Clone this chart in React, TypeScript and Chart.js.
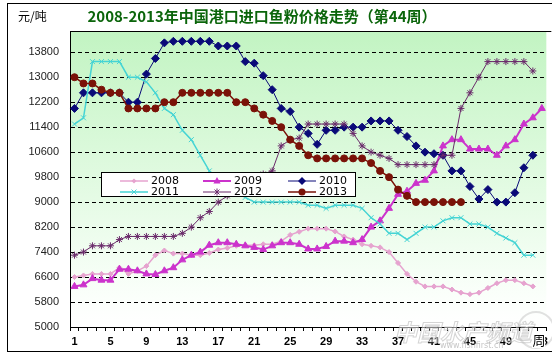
import React, { useEffect, useRef } from 'react';
import { Chart, registerables } from 'chart.js';

Chart.register(...registerables);

const weeks = ['1','2','3','4','5','6','7','8','9','10','11','12','13','14','15','16','17','18','19','20','21','22','23','24','25','26','27','28','29','30','31','32','33','34','35','36','37','38','39','40','41','42','43','44','45','46','47','48','49','50','51','52','53'];

const yTicks = [5000, 5800, 6600, 7400, 8200, 9000, 9800, 10600, 11400, 12200, 13000, 13800];

const s2008 = [6600,6650,6700,6700,6700,6900,6700,6800,6950,7300,7450,7350,7350,7300,7300,7370,7480,7530,7600,7620,7620,7650,7650,7750,7950,8050,8150,8150,8150,8060,7900,7800,7650,7600,7550,7400,7050,6700,6450,6300,6300,6300,6200,6100,6050,6100,6250,6400,6500,6500,6400,6300];
const s2009 = [6300,6350,6550,6500,6500,6850,6850,6800,6700,6680,6800,6900,7150,7300,7400,7620,7700,7700,7650,7600,7550,7480,7600,7700,7700,7650,7500,7500,7580,7750,7750,7700,7800,8200,8400,8800,9250,9350,9600,9700,10000,10800,11000,11000,10700,10700,10700,10500,10800,11000,11500,11700,12000];
const s2010 = [12000,12500,12500,12500,12500,12500,12200,12200,13100,13600,14100,14150,14150,14150,14150,14150,14000,14000,14000,13500,13450,13050,12600,12000,11900,11400,11200,10850,11300,11300,11400,11400,11400,11600,11600,11600,11300,11100,10800,10600,10550,10500,10000,10000,9500,9100,9400,9000,9000,9300,10100,10500];
const s2011 = [11500,11700,13500,13500,13500,13500,13000,13000,12850,12500,12000,11800,11300,11000,10500,10000,9750,9500,9300,9150,9000,9000,9000,9000,9000,9000,8900,8900,8800,8900,8900,8900,8800,8500,8300,8000,8000,7800,8000,8200,8200,8400,8500,8500,8300,8300,8200,8000,7850,7700,7300,7300];
const s2012 = [7300,7400,7600,7600,7600,7800,7900,7900,7900,7900,7900,7900,8000,8200,8500,8700,9000,9200,9300,9500,9700,9900,10000,10800,11000,11050,11500,11500,11500,11500,11500,11200,10800,10600,10500,10400,10200,10200,10200,10200,10200,10500,10500,12000,12500,13000,13500,13500,13500,13500,13500,13200];
const s2013 = [13000,12800,12800,12600,12500,12500,12000,12000,12000,12000,12200,12200,12500,12500,12500,12500,12500,12500,12200,12200,12000,11800,11600,11400,11000,10800,10500,10400,10400,10400,10400,10400,10400,10250,10000,9800,9400,9200,9000,9000,9000,9000,9000,9000];

const seriesNames = ['2008', '2009', '2010', '2011', '2012', '2013'];
const seriesColors = ['#e6a3cf', '#cc33cc', '#0a0a78', '#45d4d4', '#6a2a6a', '#7a1208'];
const seriesStyles = ['rectRot', 'triangle', 'rectRot', 'crossRot', 'star', 'circle'];
const seriesRadius = [2.5, 4, 4, 3.5, 3.5, 3.5];
const seriesWidth = [1.5, 2, 1, 1.5, 1, 1.5];
const seriesData = [s2008, s2009, s2010, s2011, s2012, s2013];

function drawMarker(ctx: CanvasRenderingContext2D, style: string, x: number, y: number, r: number, color: string) {
  ctx.save();
  ctx.fillStyle = color;
  ctx.strokeStyle = color;
  ctx.lineWidth = 1;
  ctx.beginPath();
  if (style === 'rectRot') {
    ctx.moveTo(x, y - r); ctx.lineTo(x + r, y); ctx.lineTo(x, y + r); ctx.lineTo(x - r, y); ctx.closePath();
    ctx.fill();
  } else if (style === 'triangle') {
    ctx.moveTo(x, y - r); ctx.lineTo(x + r * 0.9, y + r * 0.6); ctx.lineTo(x - r * 0.9, y + r * 0.6); ctx.closePath();
    ctx.fill();
  } else if (style === 'crossRot') {
    ctx.moveTo(x - r * 0.7, y - r * 0.7); ctx.lineTo(x + r * 0.7, y + r * 0.7);
    ctx.moveTo(x + r * 0.7, y - r * 0.7); ctx.lineTo(x - r * 0.7, y + r * 0.7);
    ctx.stroke();
  } else if (style === 'star') {
    ctx.moveTo(x - r * 0.7, y - r * 0.7); ctx.lineTo(x + r * 0.7, y + r * 0.7);
    ctx.moveTo(x + r * 0.7, y - r * 0.7); ctx.lineTo(x - r * 0.7, y + r * 0.7);
    ctx.moveTo(x, y - r); ctx.lineTo(x, y + r);
    ctx.stroke();
  } else {
    ctx.arc(x, y, r, 0, Math.PI * 2);
    ctx.fill();
  }
  ctx.restore();
}

const decor = {
  id: 'decor',
  beforeDraw(chart: any) {
    const { ctx, chartArea: a } = chart;
    ctx.save();
    ctx.fillStyle = '#ffffff';
    ctx.fillRect(0, 0, chart.width, chart.height);
    const g = ctx.createLinearGradient(0, a.top, 0, a.bottom);
    g.addColorStop(0, '#c2f4c2');
    g.addColorStop(0.55, '#e4fbe4');
    g.addColorStop(0.9, '#fbfffb');
    g.addColorStop(1, '#ffffff');
    ctx.fillStyle = g;
    ctx.fillRect(a.left, a.top, a.right - a.left, a.bottom - a.top);
    ctx.strokeStyle = '#000';
    ctx.lineWidth = 1;
    ctx.strokeRect(7.5, 3.5, 600, 348);
    ctx.beginPath();
    ctx.moveTo(a.left, a.top + 0.5);
    ctx.lineTo(a.right + 5, a.top + 0.5);
    ctx.stroke();
    ctx.fillStyle = '#0b650b';
    ctx.font = 'bold 15px "Noto Sans CJK SC"';
    ctx.textAlign = 'center';
    ctx.textBaseline = 'middle';
    ctx.fillText('2008-2013年中国港口进口鱼粉价格走势（第44周）', 262, 16.5);
    ctx.fillStyle = '#000';
    ctx.font = '12px "Noto Sans CJK SC"';
    ctx.textAlign = 'left';
    ctx.fillText('元/吨', 18, 16.5);
    ctx.restore();
  },
  afterDatasetsDraw(chart: any) {
    const { ctx } = chart;
    ctx.save();
    const bx = 101.5, by = 172.5, bw = 254, bh = 24;
    ctx.fillStyle = '#ffffff';
    ctx.fillRect(bx, by, bw, bh);
    ctx.beginPath();
    ctx.rect(bx, by, bw, bh);
    ctx.clip();
    const cols = [120, 203, 288];
    const rows = [181, 192];
    ctx.font = '11px "DejaVu Sans"';
    ctx.textBaseline = 'middle';
    ctx.textAlign = 'left';
    for (let i = 0; i < 6; i++) {
      const cx = cols[i % 3];
      const cy = rows[Math.floor(i / 3)];
      ctx.strokeStyle = seriesColors[i];
      ctx.lineWidth = seriesWidth[i];
      ctx.beginPath();
      ctx.moveTo(cx, cy);
      ctx.lineTo(cx + 28, cy);
      ctx.stroke();
      drawMarker(ctx, seriesStyles[i], cx + 14, cy, seriesRadius[i], seriesColors[i]);
      ctx.fillStyle = '#000';
      ctx.fillText(seriesNames[i], cx + 31, cy + 0.5);
    }
    ctx.restore();
    ctx.save();
    ctx.strokeStyle = '#000';
    ctx.lineWidth = 1;
    ctx.strokeRect(bx, by, bw, bh);
    ctx.restore();
  },
  afterDraw(chart: any) {
    const { ctx } = chart;
    ctx.save();
    ctx.font = 'bold italic 23px "Noto Sans CJK SC"';
    ctx.textBaseline = 'middle';
    ctx.textAlign = 'left';
    ctx.fillStyle = 'rgba(255,255,255,0.5)';
    ctx.fillText('中国水产频道', 394, 332);
    ctx.strokeStyle = 'rgba(170,170,170,0.5)';
    ctx.lineWidth = 1;
    ctx.strokeText('中国水产频道', 394, 332);
    ctx.font = '8px "DejaVu Sans"';
    ctx.fillStyle = 'rgba(150,150,150,0.55)';
    ctx.fillText('www.fishfirst.cn', 440, 346);
    ctx.beginPath();
    ctx.arc(536, 330, 18, 0, Math.PI * 2);
    ctx.strokeStyle = 'rgba(180,180,180,0.4)';
    ctx.lineWidth = 2;
    ctx.stroke();
    ctx.fillStyle = '#ffffff';
    ctx.fillRect(532, 332, 13, 16);
    ctx.fillStyle = '#000';
    ctx.font = '13px "Noto Sans CJK SC"';
    ctx.textAlign = 'center';
    ctx.fillText('周', 539, 340);
    ctx.restore();
  },
};

export default function App() {
  const ref = useRef<HTMLCanvasElement | null>(null);
  useEffect(() => {
    if (!ref.current) return;
    const datasets = seriesNames.map((name, i) => ({
      label: name,
      data: seriesData[i],
      borderColor: seriesColors[i],
      backgroundColor: seriesColors[i],
      borderWidth: seriesWidth[i],
      pointStyle: seriesStyles[i] as any,
      pointRadius: seriesRadius[i],
      pointBorderWidth: 1,
      pointBackgroundColor: seriesColors[i],
      pointBorderColor: seriesColors[i],
      tension: 0,
      fill: false,
      order: 6 - i,
    }));
    const chart = new Chart(ref.current, {
      type: 'line',
      data: { labels: weeks, datasets },
      options: {
        animation: false,
        responsive: false,
        devicePixelRatio: 1,
        layout: { padding: { top: 31, right: 1, left: 0, bottom: 0 } },
        plugins: { legend: { display: false }, tooltip: { enabled: false }, title: { display: false } },
        scales: {
          x: {
            type: 'category',
            offset: true,
            grid: { display: true, drawOnChartArea: false, drawTicks: true, tickLength: 4, color: '#000', offset: true },
            border: { display: true, color: '#000', width: 1 },
            ticks: {
              autoSkip: false,
              maxRotation: 0,
              padding: 4,
              color: '#000',
              font: { family: 'Liberation Sans', size: 11, weight: 'bold' },
              callback: (_v: any, i: number) => (i % 4 === 0 ? weeks[i] : ''),
            },
            afterFit: (s: any) => { s.height = 30; },
          },
          y: {
            type: 'linear',
            min: 5000,
            max: 14480,
            afterBuildTicks: (s: any) => { s.ticks = yTicks.map((v) => ({ value: v })); },
            grid: { display: true, drawTicks: false, color: '#000', lineWidth: 1 },
            border: { display: true, color: '#000', width: 1, dash: [4, 3] },
            ticks: {
              padding: 11,
              color: '#222',
              font: { family: 'Liberation Sans', size: 11 },
              callback: (v: any) => String(v),
            },
            afterFit: (s: any) => { s.width = 70; },
          },
        },
      },
      plugins: [decor],
    });
    return () => chart.destroy();
  }, []);
  return (
    <div style={{ position: 'absolute', left: 0, top: 0, width: 552, height: 357 }}>
      <canvas ref={ref} width={552} height={357} style={{ width: 552, height: 357 }} />
    </div>
  );
}
